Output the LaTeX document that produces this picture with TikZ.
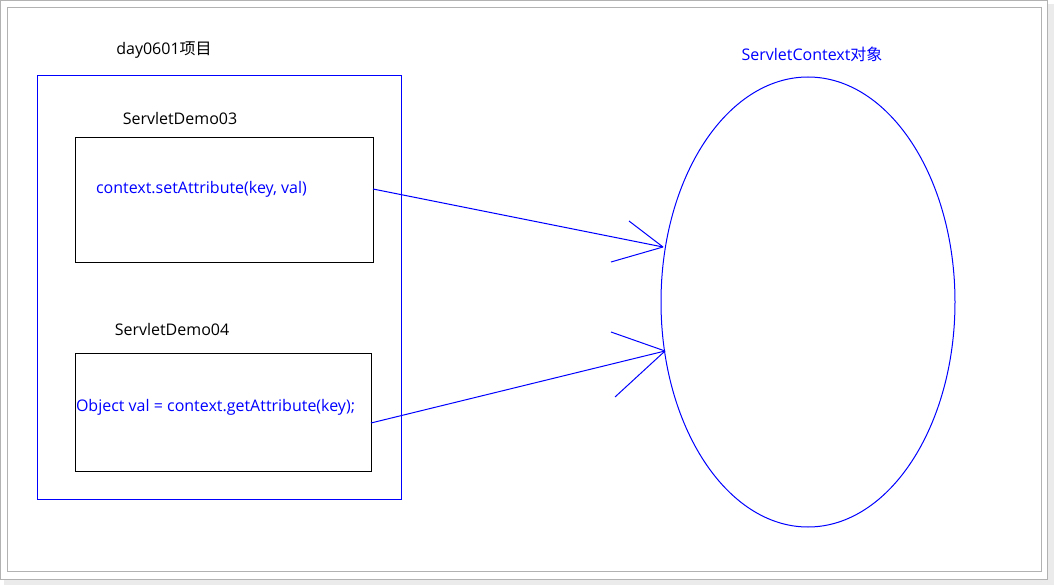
\documentclass[tikz,border=0pt]{standalone}
\usepackage{fontspec}
\setmainfont{Open Sans}
\newfontfamily\cjk{Noto Sans CJK SC}
\usepackage{tikz}
\usetikzlibrary{shapes.geometric}

\begin{document}
\begin{tikzpicture}[x=0.75pt,y=-0.75pt,line width=0.75pt,
				every node/.style={font=\fontsize{12}{14}\selectfont,inner sep=0pt,outer sep=0pt},
				frame box/.style={draw=blue,minimum width=273pt,minimum height=317.25pt},
				servlet box/.style={draw=black,minimum width=223.5pt},
				label text/.style={text=black},
				code text/.style={text=blue,anchor=west},
				store/.style={ellipse,draw=blue,minimum width=220.5pt,minimum height=337.5pt},
				barb/.style={draw=blue}]

				% screenshot frame
				\fill[black!8] (4,4) rectangle (1054,585);
				\fill[white] (0,0) rectangle (1048,580);
				\draw[black!30] (0.5,0.5) rectangle (1047.5,579.5);
				\draw[black!30] (7.5,7.5) rectangle (1041.5,571.5);
				\useasboundingbox (0,0) rectangle (1054,585);

				\node[frame box] (project) at (219,287.5) {};
				\node[label text] (title) at (164,50) {day0601{\cjk 项目}};

				\node[servlet box,minimum height=93pt] (demo3) at (224,200) {};
				\node[label text] (name3) at (180,119) {ServletDemo03};
				\node[code text] (set) at (96,189) {context.setAttribute(key, val)};

				\node[servlet box,minimum width=222pt,minimum height=88.5pt] (demo4) at (223,412) {};
				\node[label text] (name4) at (172,329) {ServletDemo04};
				\node[code text] (get) at (76,407) {Object val = context.getAttribute(key);};

				\node[store] (context) at (808,302) {};
				\node[text=blue] (ctxname) at (812,54) {ServletContext{\cjk 对象}};

				\coordinate (tip1) at (663,247);
				\coordinate (tip2) at (665,351);

				\draw[blue] (demo3.east |- set) -- (tip1);
				\draw[blue] (demo4.east |- 0,423) -- (tip2);

				% open arrow heads
				\path[barb] (tip1) -- ++(-34,-26)
					(tip1) -- ++(-52,15)
					(tip2) -- ++(-54,-19)
					(tip2) -- ++(-50,46);

			\end{tikzpicture}
\end{document}
